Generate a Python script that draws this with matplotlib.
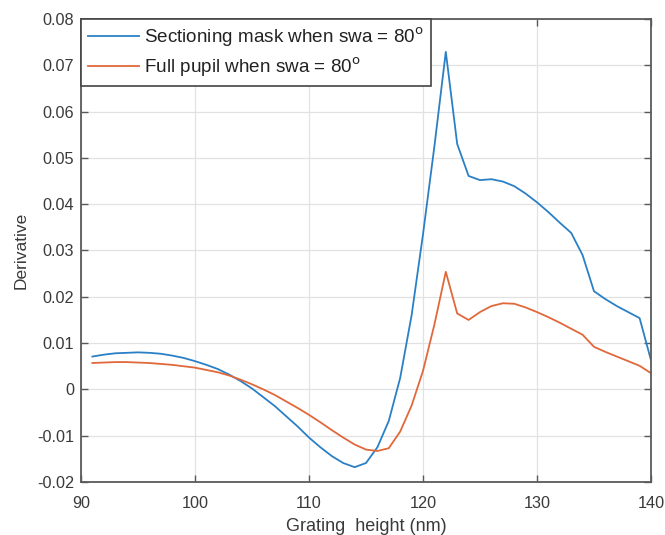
import matplotlib
matplotlib.use("Agg")
import matplotlib.pyplot as plt

plt.rcParams['font.family'] = ['Liberation Sans', 'DejaVu Sans']

x_nm = list(range(91, 141))

sectioning_mask = [
    0.0071, 0.0075, 0.0078, 0.0079, 0.0080, 0.0079, 0.0077, 0.0073, 0.0068, 0.0061,
    0.0053, 0.0044, 0.0032, 0.0018, 0.0002, -0.0017, -0.0036, -0.0058, -0.0080, -0.0104,
    -0.0125, -0.0144, -0.0159, -0.0168, -0.0159, -0.0125, -0.0068, 0.0025, 0.0160, 0.0335,
    0.0525, 0.0729, 0.0530, 0.0461, 0.0452, 0.0454, 0.0449, 0.0439, 0.0423, 0.0404,
    0.0383, 0.0360, 0.0338, 0.0290, 0.0212, 0.0195, 0.0180, 0.0167, 0.0154, 0.0063,
]

full_pupil = [
    0.0057, 0.0058, 0.0059, 0.0059, 0.0058, 0.0057, 0.0055, 0.0053, 0.0050, 0.0047,
    0.0042, 0.0037, 0.0030, 0.0021, 0.0011, 0.0000, -0.0012, -0.0026, -0.0040, -0.0055,
    -0.0071, -0.0088, -0.0104, -0.0119, -0.0130, -0.0133, -0.0127, -0.0091, -0.0035, 0.0040,
    0.0140, 0.0254, 0.0164, 0.0150, 0.0167, 0.0180, 0.0186, 0.0185, 0.0177, 0.0167,
    0.0156, 0.0144, 0.0131, 0.0118, 0.0092, 0.0081, 0.0071, 0.0061, 0.0051, 0.0035,
]

series_labels = ['Sectioning mask when swa = 80$^{\\mathrm{o}}$',
                 'Full pupil when swa = 80$^{\\mathrm{o}}$']
x_ticks = [90, 100, 110, 120, 130, 140]
y_ticks = [-0.02, -0.01, 0, 0.01, 0.02, 0.03, 0.04, 0.05, 0.06, 0.07, 0.08]
y_tick_labels = ['-0.02', '-0.01', '0', '0.01', '0.02', '0.03', '0.04', '0.05', '0.06', '0.07', '0.08']

fig = plt.figure(figsize=(6.65, 5.35), dpi=100)
ax = fig.add_axes([81/665, 1 - 482/535, (651-81)/665, (482-19)/535])

ax.plot(x_nm, sectioning_mask, color='#2b80c5', lw=1.3, label=series_labels[0])
ax.plot(x_nm, full_pupil, color='#e0683b', lw=1.3, label=series_labels[1])

ax.set_xlim(90, 140)
ax.set_ylim(-0.02, 0.08)
ax.set_xticks(x_ticks)
ax.set_xticklabels([str(t) for t in x_ticks])
ax.set_yticks(y_ticks)
ax.set_yticklabels(y_tick_labels)

ax.grid(True, color='#e2e2e2', lw=0.9)
ax.set_axisbelow(True)
for s in ax.spines.values():
    s.set_color('#5a5a5a')
    s.set_linewidth(1.3)
ax.tick_params(direction='in', length=5, width=1.0, color='#5a5a5a',
               top=True, right=True, labelsize=11.7, labelcolor='#3a3a3a')
ax.tick_params(axis='x', pad=10)
ax.tick_params(axis='y', pad=5)

ax.set_xlabel('Grating  height (nm)', fontsize=13, color='#3a3a3a', labelpad=5)
ax.set_ylabel('Derivative', fontsize=12.5, color='#3a3a3a', labelpad=6)

leg = ax.legend(loc='upper left', borderaxespad=0, fontsize=13.6, fancybox=False,
                framealpha=1, edgecolor='#444444', handlelength=2.7,
                handletextpad=0.3, borderpad=0.35, labelspacing=0.35)
leg.get_frame().set_linewidth(1.2)
for t in leg.get_texts():
    t.set_color('#222222')

fig.savefig('out.png', dpi=100)
